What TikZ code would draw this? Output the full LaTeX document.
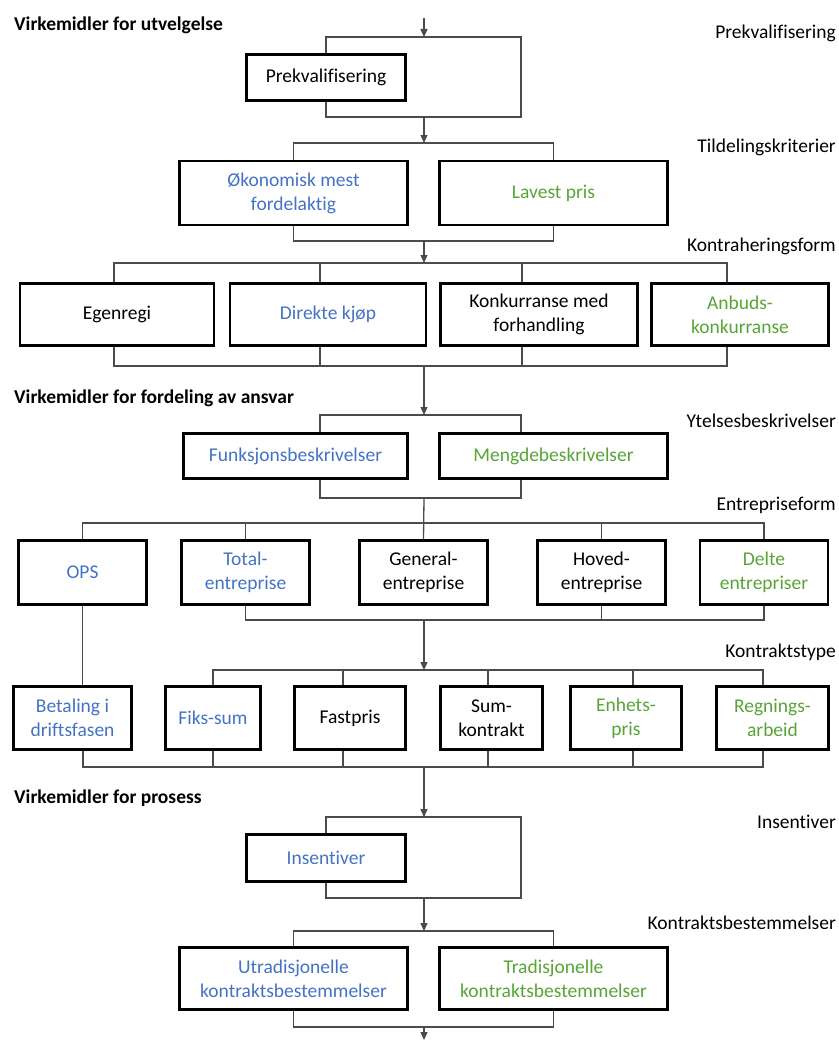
\documentclass[tikz,border=0pt]{standalone}
\usepackage{fontspec}
\setmainfont{Carlito}[Ligatures=NoCommon]
\usetikzlibrary{arrows.meta,positioning,calc}
\definecolor{accblue}{RGB}{68,114,196}
\definecolor{accgreen}{RGB}{88,164,52}
\definecolor{wiregray}{RGB}{75,75,75}

\begin{document}
\begin{tikzpicture}[
  x=1pt, y=-1pt,
  every node/.style={font=\fontsize{19.5}{24}\selectfont},
  box/.style={draw=black, line width=2.6pt, align=center, inner sep=0pt},
  pair/.style={box, minimum width=228pt, minimum height=64pt},
  form/.style={box, minimum height=62pt},
  entr/.style={box, minimum width=128pt, minimum height=64pt},
  ktype/.style={box, minimum height=63pt},
  heading/.style={anchor=west, inner sep=0pt, font=\fontsize{19.5}{24}\selectfont\bfseries},
  level/.style={anchor=east, inner sep=0pt},
  wire/.style={draw=wiregray, line width=1.3pt},
  flow/.style={wire, -{Triangle[length=8pt,width=7pt]}}
]
\useasboundingbox (0,0) rectangle (838,1041);

% headings and level labels
\node[heading] (h1) at (14,25) {Virkemidler for utvelgelse};
\node[heading] (h2) at (14,398) {Virkemidler for fordeling av ansvar};
\node[heading] (h3) at (14,798) {Virkemidler for prosess};
\node[level] (l1) at (836,33) {Prekvalifisering};
\node[level] (l2) at (836,147) {Tildelingskriterier};
\node[level] (l3) at (836,246) {Kontraheringsform};
\node[level] (l4) at (836,421) {Ytelsesbeskrivelser};
\node[level] (l5) at (836,505) {Entrepriseform};
\node[level] (l6) at (836,652) {Kontraktstype};
\node[level] (l7) at (836,822) {Insentiver};
\node[level] (l8) at (836,923) {Kontraktsbestemmelser};

% utvelgelse
\node[box, minimum width=159pt, minimum height=46pt] (pk) at (326,77.5) {Prekvalifisering};
\node[pair, text=accblue] (okm) at (293.5,193) {Økonomisk mest\\fordelaktig};
\node[pair, text=accgreen] (lav) at (553.5,193) {Lavest pris};
\node[form, minimum width=194pt] (egen) at (117,314.5) {Egenregi};
\node[form, minimum width=196pt, text=accblue] (dir) at (328,314.5) {Direkte kjøp};
\node[form, minimum width=197pt] (konk) at (539,314.5) {Konkurranse med\\forhandling};
\node[form, minimum width=177pt, text=accgreen] (anb) at (740,314.5) {Anbuds-\\konkurranse};

% fordeling av ansvar
\node[pair, minimum height=45pt, minimum width=224pt, text=accblue] (funk) at (295.5,456) {Funksjonsbeskrivelser};
\node[pair, minimum height=45pt, text=accgreen] (meng) at (553.5,456) {Mengdebeskrivelser};
\node[entr, text=accblue] (ops) at (82.5,572.5) {OPS};
\node[entr, text=accblue] (tot) at (245.5,572.5) {Total-\\entreprise};
\node[entr] (gen) at (423.5,572.5) {General-\\entreprise};
\node[entr] (hov) at (601.5,572.5) {Hoved-\\entreprise};
\node[entr, text=accgreen] (del) at (764,572.5) {Delte\\entrepriser};
\node[ktype, minimum width=118pt, text=accblue] (bet) at (72.5,718) {Betaling i\\driftsfasen};
\node[ktype, minimum width=95pt, text=accblue] (fiks) at (213,718) {Fiks-sum};
\node[ktype, minimum width=111pt] (fast) at (350,718) {Fastpris};
\node[ktype, minimum width=102pt] (sum) at (491.5,718) {Sum-\\kontrakt};
\node[ktype, minimum width=111pt, text=accgreen] (enh) at (626,718) {Enhets-\\pris};
\node[ktype, minimum width=112pt, text=accgreen] (reg) at (772.5,718) {Regnings-\\arbeid};

% prosess
\node[box, minimum width=159pt, minimum height=47pt, text=accblue] (ins) at (326,858) {Insentiver};
\node[pair, minimum height=62pt, text=accblue] (utr) at (293.5,978.5) {Utradisjonelle\\kontraktsbestemmelser};
\node[pair, minimum height=62pt, text=accgreen] (tra) at (553.5,978.5) {Tradisjonelle\\kontraktsbestemmelser};

% split and join points on the main line
\coordinate (top) at (424,18);
\coordinate (pkS) at (424,37);   \coordinate (pkJ) at (424,117);
\coordinate (pkTR) at (521,37);  \coordinate (pkBR) at (521,117);
\coordinate (tkS) at (424,143);  \coordinate (tkJ) at (424,241);
\coordinate (kfS) at (424,263);  \coordinate (kfJ) at (424,366);
\coordinate (ybS) at (424,415);  \coordinate (ybJ) at (424,498);
\coordinate (epS) at (424,523);  \coordinate (epJ) at (424,620);
\coordinate (ktS) at (424,670);  \coordinate (ktJ) at (424,767);
\coordinate (inS) at (424,817);  \coordinate (inJ) at (424,898);
\coordinate (inTR) at (521,817); \coordinate (inBR) at (521,898);
\coordinate (kbS) at (424,931);  \coordinate (kbJ) at (424,1027);
\coordinate (bottom) at (424,1040);

% bypass loops
\draw[wire] (pk.north) |- (pkTR) -- (pkBR) -| (pk.south);
\draw[wire] (ins.north) |- (inTR) -- (inBR) -| (ins.south);

% branches into each row
\foreach \n/\dx/\s in {okm/0/tkS, lav/0/tkS,
    egen/-3/kfS, dir/-8/kfS, konk/-17/kfS, anb/-13/kfS,
    funk/24.5/ybS, meng/-32.5/ybS,
    ops/0/epS, tot/0/epS, hov/0/epS, del/0/epS,
    fiks/0/ktS, fast/-7/ktS, sum/-3.5/ktS, enh/7/ktS, reg/-9.5/ktS,
    utr/0/kbS, tra/0/kbS}
  \draw[wire] ($(\n.north)+(\dx,0)$) |- (\s);

% branches out of each row
\foreach \n/\dx/\j in {okm/0/tkJ, lav/0/tkJ,
    egen/-3/kfJ, dir/-8/kfJ, konk/-17/kfJ, anb/-13/kfJ,
    funk/24.5/ybJ, meng/-32.5/ybJ,
    tot/0/epJ, hov/0/epJ, del/0/epJ,
    bet/10.5/ktJ, fiks/0/ktJ, fast/-7/ktJ, sum/-3.5/ktJ, enh/7/ktJ, reg/-9.5/ktJ,
    utr/0/kbJ, tra/0/kbJ}
  \draw[wire] ($(\n.south)+(\dx,0)$) |- (\j);

\draw[wire] (ops.south) -- (ops.south |- bet.north);
\draw[wire] (ybJ) -- (gen.north);

% main line
\foreach \x/\y in {top/pkS, pkJ/tkS, tkJ/kfS, kfJ/ybS, epJ/ktS, ktJ/inS, inJ/kbS, kbJ/bottom}
  \draw[flow] (\x) -- (\y);
\end{tikzpicture}
\end{document}
